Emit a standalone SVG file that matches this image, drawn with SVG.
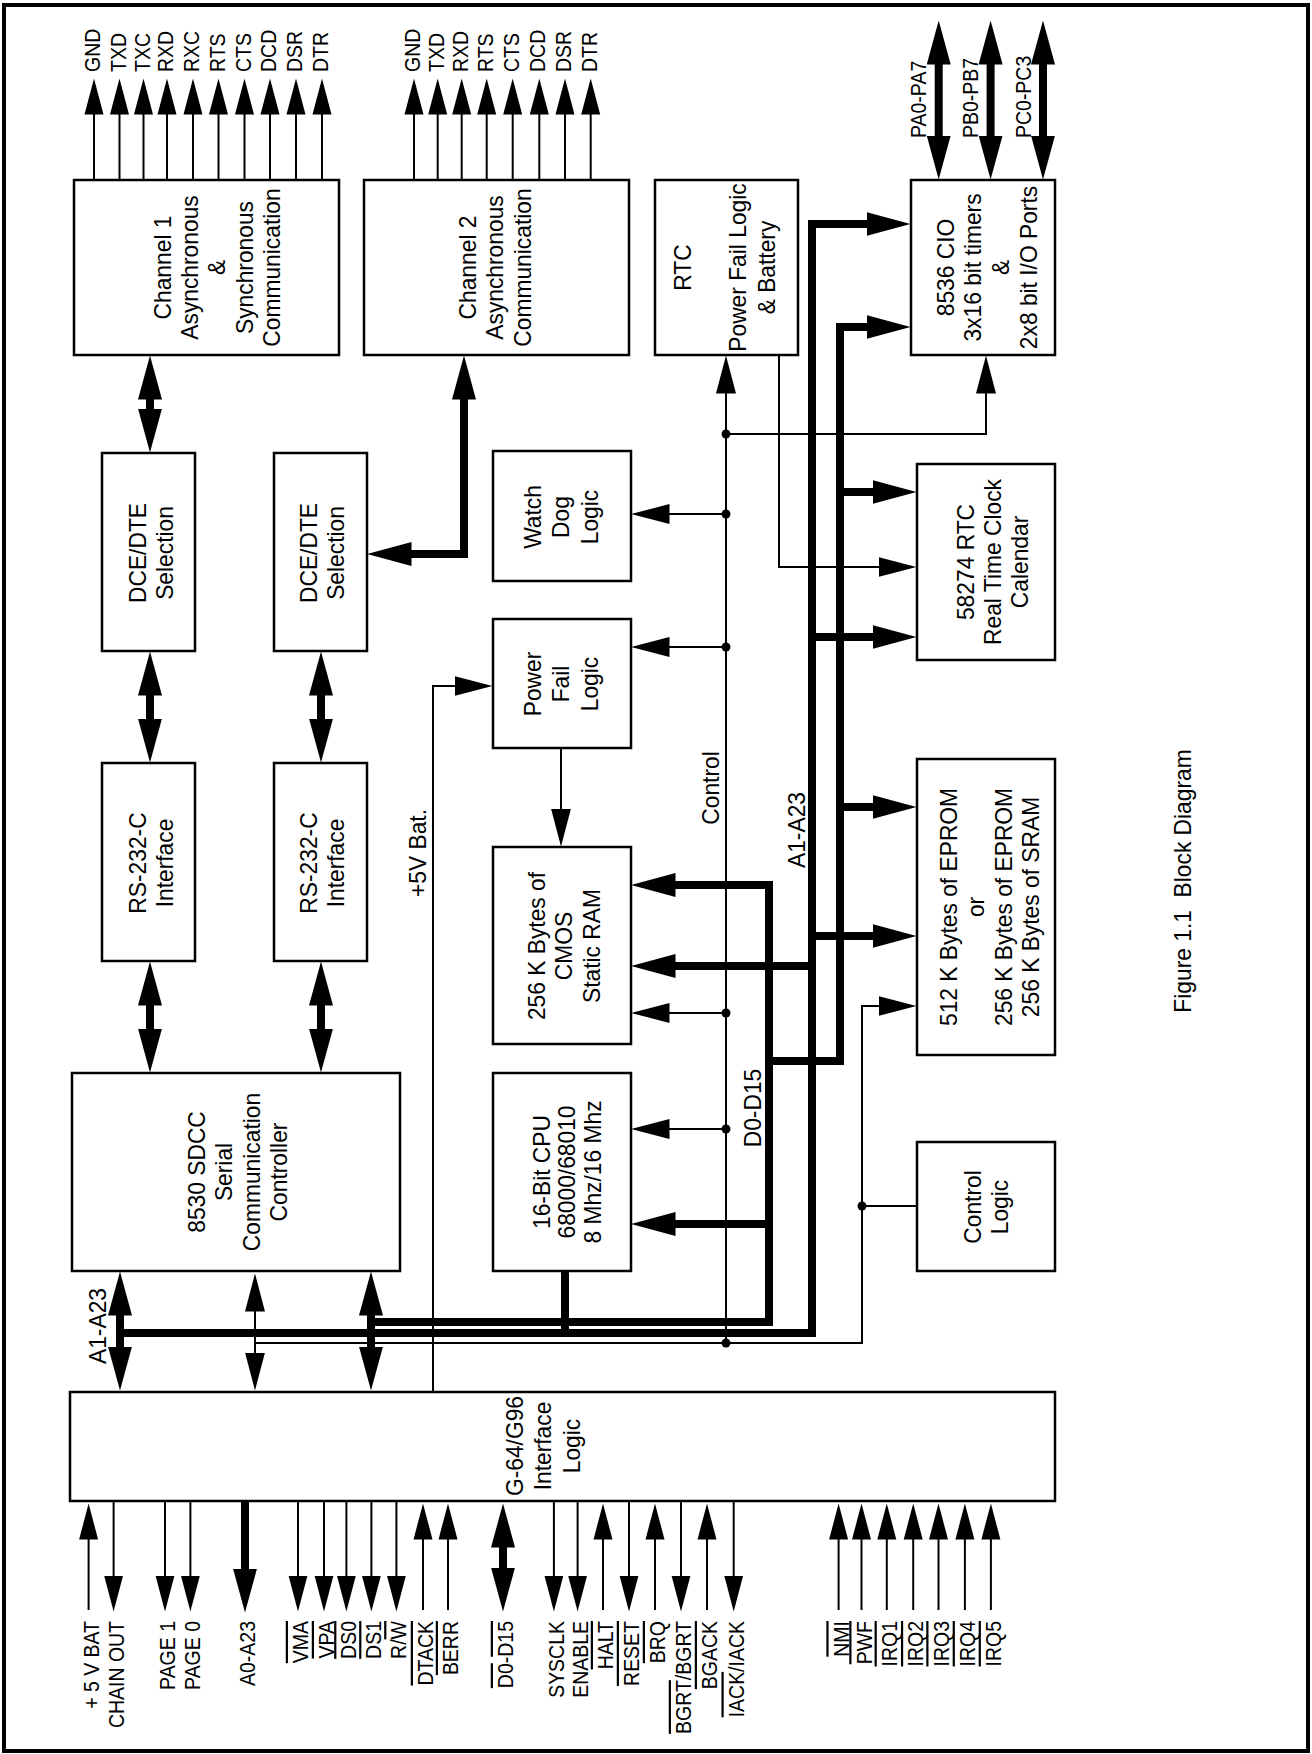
<svg xmlns="http://www.w3.org/2000/svg" width="1312" height="1754" viewBox="0 0 1312 1754">
<defs>
<style>
.b{fill:none;stroke:#000;stroke-width:2.5}
.t{fill:none;stroke:#000;stroke-width:2}
.T{fill:none;stroke:#000;stroke-width:8}
text{font-family:"Liberation Sans",Arial,sans-serif;fill:#000}
.l{font-size:23.5px;text-anchor:middle}
.p{font-size:22px}
.e{text-anchor:end}
.o{text-decoration:overline}
.ap{marker-end:url(#p)}
.aa{marker-end:url(#a)}
.AA{marker-end:url(#A)}
.dd{marker-start:url(#A);marker-end:url(#A)}
</style>
<marker id="a" markerUnits="userSpaceOnUse" viewBox="0 -11 38 22" markerWidth="38" markerHeight="22" refX="0.5" refY="0" orient="auto-start-reverse"><path d="M0,-10L38,0L0,10z"/></marker>
<marker id="p" markerUnits="userSpaceOnUse" viewBox="0 -10 36 20" markerWidth="36" markerHeight="20" refX="0.5" refY="0" orient="auto-start-reverse"><path d="M0,-9.5L36,0L0,9.5z"/></marker>
<marker id="A" markerUnits="userSpaceOnUse" viewBox="0 -12 44 24" markerWidth="44" markerHeight="24" refX="0.5" refY="0" orient="auto-start-reverse"><path d="M0,-12L44,0L0,12z"/></marker>
</defs>
<rect x="0" y="0" width="1312" height="1754" fill="#fff"/>
<rect x="4" y="5" width="1304" height="1746" fill="none" stroke="#000" stroke-width="4"/>

<g id="ch1"><rect class="b" x="74" y="180" width="265" height="175"/>
<text class="l" transform="translate(170.5,267.5) rotate(-90) scale(0.97,1)"><tspan x="0" y="0">Channel 1</tspan><tspan x="0" y="27.5">Asynchronous</tspan><tspan x="0" y="55">&amp;</tspan><tspan x="0" y="82.5">Synchronous</tspan><tspan x="0" y="110">Communication</tspan></text></g>
<g id="ch2"><rect class="b" x="364" y="180" width="265" height="175"/>
<text class="l" transform="translate(475.5,267.5) rotate(-90) scale(0.97,1)"><tspan x="0" y="0">Channel 2</tspan><tspan x="0" y="28">Asynchronous</tspan><tspan x="0" y="56">Communication</tspan></text></g>
<g id="rtc"><rect class="b" x="655" y="180" width="143" height="175"/>
<text class="l" transform="translate(690.5,267.5) rotate(-90) scale(0.97,1)"><tspan x="0" y="0">RTC</tspan><tspan x="0" y="56">Power Fail Logic</tspan><tspan x="0" y="85">&amp; Battery</tspan></text></g>
<g id="cio"><rect class="b" x="911" y="180" width="144" height="175"/>
<text class="l" transform="translate(953.5,267.5) rotate(-90) scale(0.97,1)"><tspan x="0" y="0">8536 CIO</tspan><tspan x="0" y="28">3x16 bit timers</tspan><tspan x="0" y="56">&amp;</tspan><tspan x="0" y="84">2x8 bit I/O Ports</tspan></text></g>
<g id="dce1"><rect class="b" x="102" y="453" width="93" height="198"/>
<text class="l" transform="translate(145.5,553) rotate(-90) scale(0.97,1)"><tspan x="0" y="0">DCE/DTE</tspan><tspan x="0" y="28">Selection</tspan></text></g>
<g id="dce2"><rect class="b" x="274" y="453" width="93" height="198"/>
<text class="l" transform="translate(316.5,553) rotate(-90) scale(0.97,1)"><tspan x="0" y="0">DCE/DTE</tspan><tspan x="0" y="28">Selection</tspan></text></g>
<g id="rs1"><rect class="b" x="102" y="763" width="93" height="198"/>
<text class="l" transform="translate(145.5,863) rotate(-90) scale(0.97,1)"><tspan x="0" y="0">RS-232-C</tspan><tspan x="0" y="28">Interface</tspan></text></g>
<g id="rs2"><rect class="b" x="274" y="763" width="93" height="198"/>
<text class="l" transform="translate(316.5,863) rotate(-90) scale(0.97,1)"><tspan x="0" y="0">RS-232-C</tspan><tspan x="0" y="28">Interface</tspan></text></g>
<g id="watchdog"><rect class="b" x="493" y="451" width="138" height="130"/>
<text class="l" transform="translate(540.5,517) rotate(-90) scale(0.97,1)"><tspan x="0" y="0">Watch</tspan><tspan x="0" y="29">Dog</tspan><tspan x="0" y="58">Logic</tspan></text></g>
<g id="powerfail"><rect class="b" x="493" y="619" width="138" height="129"/>
<text class="l" transform="translate(540.5,684) rotate(-90) scale(0.97,1)"><tspan x="0" y="0">Power</tspan><tspan x="0" y="29">Fail</tspan><tspan x="0" y="58">Logic</tspan></text></g>
<g id="rtc58274"><rect class="b" x="917" y="464" width="138" height="196"/>
<text class="l" transform="translate(973.5,562) rotate(-90) scale(0.97,1)"><tspan x="0" y="0">58274 RTC</tspan><tspan x="0" y="27.5">Real Time Clock</tspan><tspan x="0" y="55">Calendar</tspan></text></g>
<g id="eprom"><rect class="b" x="917" y="759" width="138" height="296"/>
<text class="l" transform="translate(956.5,907) rotate(-90) scale(0.97,1)"><tspan x="0" y="0">512 K Bytes of EPROM</tspan><tspan x="0" y="27.7">or</tspan><tspan x="0" y="55.4">256 K Bytes of EPROM</tspan><tspan x="0" y="83">256 K Bytes of SRAM</tspan></text></g>
<g id="cmos"><rect class="b" x="493" y="847" width="138" height="197"/>
<text class="l" transform="translate(544.5,946) rotate(-90) scale(0.97,1)"><tspan x="0" y="0">256 K Bytes of</tspan><tspan x="0" y="27.7">CMOS</tspan><tspan x="0" y="55.4">Static RAM</tspan></text></g>
<g id="cpu"><rect class="b" x="493" y="1073" width="138" height="198"/>
<text class="l" transform="translate(549.5,1172) rotate(-90) scale(0.97,1)"><tspan x="0" y="0">16-Bit CPU</tspan><tspan x="0" y="26">68000/68010</tspan><tspan x="0" y="52">8 Mhz/16 Mhz</tspan></text></g>
<g id="sdcc"><rect class="b" x="72" y="1073" width="328" height="198"/>
<text class="l" transform="translate(204.5,1172) rotate(-90) scale(0.97,1)"><tspan x="0" y="0">8530 SDCC</tspan><tspan x="0" y="27.7">Serial</tspan><tspan x="0" y="55.4">Communication</tspan><tspan x="0" y="83">Controller</tspan></text></g>
<g id="controllogic"><rect class="b" x="917" y="1142" width="138" height="129"/>
<text class="l" transform="translate(980.5,1207) rotate(-90) scale(0.97,1)"><tspan x="0" y="0">Control</tspan><tspan x="0" y="28">Logic</tspan></text></g>
<g id="g64"><rect class="b" x="70" y="1392" width="985" height="109"/>
<text class="l" transform="translate(522.5,1446) rotate(-90) scale(0.97,1)"><tspan x="0" y="0">G-64/G96</tspan><tspan x="0" y="29">Interface</tspan><tspan x="0" y="58">Logic</tspan></text></g>

<g id="connectors">
<path class="T dd" d="M464,399V554H411"/>
<path class="T" d="M867,224H812V1333H120" marker-start="url(#A)"/>
<path class="T" d="M867,327H840V1061H769" marker-start="url(#A)"/>
<path class="T" d="M675,885H769V1322H371" marker-start="url(#A)"/>
<path class="T AA" d="M840,492H873"/>
<path class="T AA" d="M812,637H873"/>
<path class="T AA" d="M840,807H873"/>
<path class="T AA" d="M812,936H873"/>
<path class="T AA" d="M812,966H675"/>
<path class="T AA" d="M769,1224H675"/>
<path class="T" d="M565,1271V1333"/>
<path class="T dd" d="M120,1315V1347"/>
<path class="T dd" d="M371,1315V1347"/>
<path class="T AA" d="M245,1501V1569"/>
<path class="T dd" d="M503,1547V1568"/>
<path class="T dd" d="M150,399V409"/>
<path class="T dd" d="M150,695V719"/>
<path class="T dd" d="M321,695V719"/>
<path class="T dd" d="M150,1005V1029"/>
<path class="T dd" d="M321,1005V1029"/>
<path class="T dd" d="M938.7,64V136"/>
<path class="T dd" d="M990.6,64V136"/>
<path class="T dd" d="M1043,64V136"/>

<path class="t" d="M726,393V1343" marker-start="url(#a)"/>
<path class="t aa" d="M726,434H986V393"/>
<path class="t aa" d="M726,514H669"/>
<path class="t aa" d="M726,647H669"/>
<path class="t aa" d="M726,1013H669"/>
<path class="t aa" d="M726,1129H669"/>
<path class="t aa" d="M255,1343H862V1006H879"/>
<path class="t" d="M862,1206H917"/>
<path class="t aa" d="M779,355V567H879"/>
<path class="t aa" d="M433,1392V686H455"/>
<path class="t aa" d="M561,748V809"/>
<path class="t" d="M255,1311V1353" marker-start="url(#a)" marker-end="url(#a)"/>
<g fill="#000"><circle cx="726" cy="434" r="4.5"/><circle cx="726" cy="514" r="4.5"/><circle cx="726" cy="647" r="4.5"/><circle cx="726" cy="1013" r="4.5"/><circle cx="726" cy="1129" r="4.5"/><circle cx="726" cy="1343" r="4.5"/><circle cx="862" cy="1206" r="4.5"/></g>

<path class="t ap" d="M94,180V114"/><path class="t ap" d="M119.5,180V114"/><path class="t ap" d="M143.5,180V114"/><path class="t ap" d="M167,180V114"/><path class="t ap" d="M193,180V114"/><path class="t ap" d="M218.5,180V114"/><path class="t ap" d="M244.5,180V114"/><path class="t ap" d="M270,180V114"/><path class="t ap" d="M296,180V114"/><path class="t ap" d="M322,180V114"/>
<path class="t ap" d="M414,180V114"/><path class="t ap" d="M437.7,180V114"/><path class="t ap" d="M461.7,180V114"/><path class="t ap" d="M486.7,180V114"/><path class="t ap" d="M512.7,180V114"/><path class="t ap" d="M539.3,180V114"/><path class="t ap" d="M565,180V114"/><path class="t ap" d="M590.7,180V114"/>

<path class="t ap" d="M88.6,1610V1539"/><path class="t ap" d="M423,1610V1539"/><path class="t ap" d="M448,1610V1539"/><path class="t ap" d="M603,1610V1539"/><path class="t ap" d="M655,1610V1539"/><path class="t ap" d="M707,1610V1539"/>
<path class="t ap" d="M838.6,1610V1539"/><path class="t ap" d="M861.5,1610V1539"/><path class="t ap" d="M886.8,1610V1539"/><path class="t ap" d="M913.2,1610V1539"/><path class="t ap" d="M938.5,1610V1539"/><path class="t ap" d="M964.9,1610V1539"/><path class="t ap" d="M990.9,1610V1539"/>
<path class="t ap" d="M113.6,1501V1576"/><path class="t ap" d="M165,1501V1576"/><path class="t ap" d="M190.4,1501V1576"/><path class="t ap" d="M298,1501V1576"/><path class="t ap" d="M324,1501V1576"/><path class="t ap" d="M346.4,1501V1576"/><path class="t ap" d="M371.4,1501V1576"/><path class="t ap" d="M396.4,1501V1576"/><path class="t ap" d="M553.9,1501V1576"/><path class="t ap" d="M577.6,1501V1576"/><path class="t ap" d="M629,1501V1576"/><path class="t ap" d="M681,1501V1576"/><path class="t ap" d="M733.7,1501V1576"/>
</g>

<g id="labels">
<text class="p" transform="translate(100,72) rotate(-90) scale(0.886,1)">GND</text>
<text class="p" transform="translate(125.5,72) rotate(-90) scale(0.886,1)">TXD</text>
<text class="p" transform="translate(149.5,72) rotate(-90) scale(0.886,1)">TXC</text>
<text class="p" transform="translate(173,72) rotate(-90) scale(0.886,1)">RXD</text>
<text class="p" transform="translate(199,72) rotate(-90) scale(0.886,1)">RXC</text>
<text class="p" transform="translate(224.5,72) rotate(-90) scale(0.886,1)">RTS</text>
<text class="p" transform="translate(250.5,72) rotate(-90) scale(0.886,1)">CTS</text>
<text class="p" transform="translate(276,72) rotate(-90) scale(0.886,1)">DCD</text>
<text class="p" transform="translate(302,72) rotate(-90) scale(0.886,1)">DSR</text>
<text class="p" transform="translate(328,72) rotate(-90) scale(0.886,1)">DTR</text>
<text class="p" transform="translate(420,72) rotate(-90) scale(0.886,1)">GND</text>
<text class="p" transform="translate(443.7,72) rotate(-90) scale(0.886,1)">TXD</text>
<text class="p" transform="translate(467.7,72) rotate(-90) scale(0.886,1)">RXD</text>
<text class="p" transform="translate(492.7,72) rotate(-90) scale(0.886,1)">RTS</text>
<text class="p" transform="translate(518.7,72) rotate(-90) scale(0.886,1)">CTS</text>
<text class="p" transform="translate(545.3,72) rotate(-90) scale(0.886,1)">DCD</text>
<text class="p" transform="translate(571,72) rotate(-90) scale(0.886,1)">DSR</text>
<text class="p" transform="translate(596.7,72) rotate(-90) scale(0.886,1)">DTR</text>
<text class="p" transform="translate(926,138) rotate(-90) scale(0.886,1)">PA0-PA7</text>
<text class="p" transform="translate(978,138) rotate(-90) scale(0.886,1)">PB0-PB7</text>
<text class="p" transform="translate(1031,138) rotate(-90) scale(0.886,1)">PC0-PC3</text>

<text class="l" transform="translate(718.5,788) rotate(-90) scale(0.97,1)">Control</text>
<text class="l" transform="translate(804.5,830) rotate(-90) scale(0.97,1)">A1-A23</text>
<text class="l" transform="translate(760.5,1108) rotate(-90) scale(0.97,1)">D0-D15</text>
<text class="l" transform="translate(425.5,853) rotate(-90) scale(0.97,1)">+5V Bat.</text>
<text class="l" transform="translate(105.5,1326) rotate(-90) scale(0.97,1)">A1-A23</text>
<text class="l" transform="translate(1190.5,881) rotate(-90) scale(0.97,1)">Figure 1.1&#160; Block Diagram</text>

<text class="p e" transform="translate(98.6,1621) rotate(-90) scale(0.886,1)">+ 5 V BAT</text>
<text class="p e" transform="translate(123.6,1621) rotate(-90) scale(0.886,1)">CHAIN OUT</text>
<text class="p e" transform="translate(175,1621) rotate(-90) scale(0.886,1)">PAGE 1</text>
<text class="p e" transform="translate(200.4,1621) rotate(-90) scale(0.886,1)">PAGE 0</text>
<text class="p e" transform="translate(254.6,1621) rotate(-90) scale(0.886,1)">A0-A23</text>
<text class="p e" transform="translate(308,1621) rotate(-90) scale(0.886,1)"><tspan class="o">VMA</tspan></text>
<text class="p e" transform="translate(334,1621) rotate(-90) scale(0.886,1)"><tspan class="o">VPA</tspan></text>
<text class="p e" transform="translate(356.4,1621) rotate(-90) scale(0.886,1)"><tspan class="o">DS0</tspan></text>
<text class="p e" transform="translate(381.4,1621) rotate(-90) scale(0.886,1)"><tspan class="o">DS1</tspan></text>
<text class="p e" transform="translate(406.4,1621) rotate(-90) scale(0.886,1)">R/<tspan class="o">W</tspan></text>
<text class="p e" transform="translate(433,1621) rotate(-90) scale(0.886,1)"><tspan class="o">DTACK</tspan></text>
<text class="p e" transform="translate(458,1621) rotate(-90) scale(0.886,1)"><tspan class="o">BERR</tspan></text>
<text class="p e" transform="translate(513,1621) rotate(-90) scale(0.886,1)"><tspan class="o">D0</tspan>-<tspan class="o">D15</tspan></text>
<text class="p e" transform="translate(563.9,1621) rotate(-90) scale(0.886,1)">SYSCLK</text>
<text class="p e" transform="translate(587.6,1621) rotate(-90) scale(0.886,1)">ENABLE</text>
<text class="p e" transform="translate(613,1621) rotate(-90) scale(0.886,1)"><tspan class="o">HALT</tspan></text>
<text class="p e" transform="translate(639,1621) rotate(-90) scale(0.886,1)"><tspan class="o">RESET</tspan></text>
<text class="p e" transform="translate(665,1621) rotate(-90) scale(0.886,1)"><tspan class="o">BRQ</tspan></text>
<text class="p e" transform="translate(691,1621) rotate(-90) scale(0.886,1)"><tspan class="o">BGRT</tspan>/BGRT</text>
<text class="p e" transform="translate(717,1621) rotate(-90) scale(0.886,1)"><tspan class="o">BGACK</tspan></text>
<text class="p e" transform="translate(743.7,1621) rotate(-90) scale(0.886,1)"><tspan class="o">IACK</tspan>/IACK</text>
<text class="p e" transform="translate(848.6,1621) rotate(-90) scale(0.886,1)"><tspan class="o">NMI</tspan></text>
<text class="p e" transform="translate(871.5,1621) rotate(-90) scale(0.886,1)"><tspan class="o">PWF</tspan></text>
<text class="p e" transform="translate(896.8,1621) rotate(-90) scale(0.886,1)"><tspan class="o">IRQ1</tspan></text>
<text class="p e" transform="translate(923.2,1621) rotate(-90) scale(0.886,1)"><tspan class="o">IRQ2</tspan></text>
<text class="p e" transform="translate(948.5,1621) rotate(-90) scale(0.886,1)"><tspan class="o">IRQ3</tspan></text>
<text class="p e" transform="translate(974.9,1621) rotate(-90) scale(0.886,1)"><tspan class="o">IRQ4</tspan></text>
<text class="p e" transform="translate(1000.9,1621) rotate(-90) scale(0.886,1)"><tspan class="o">IRQ5</tspan></text>
</g>
</svg>
